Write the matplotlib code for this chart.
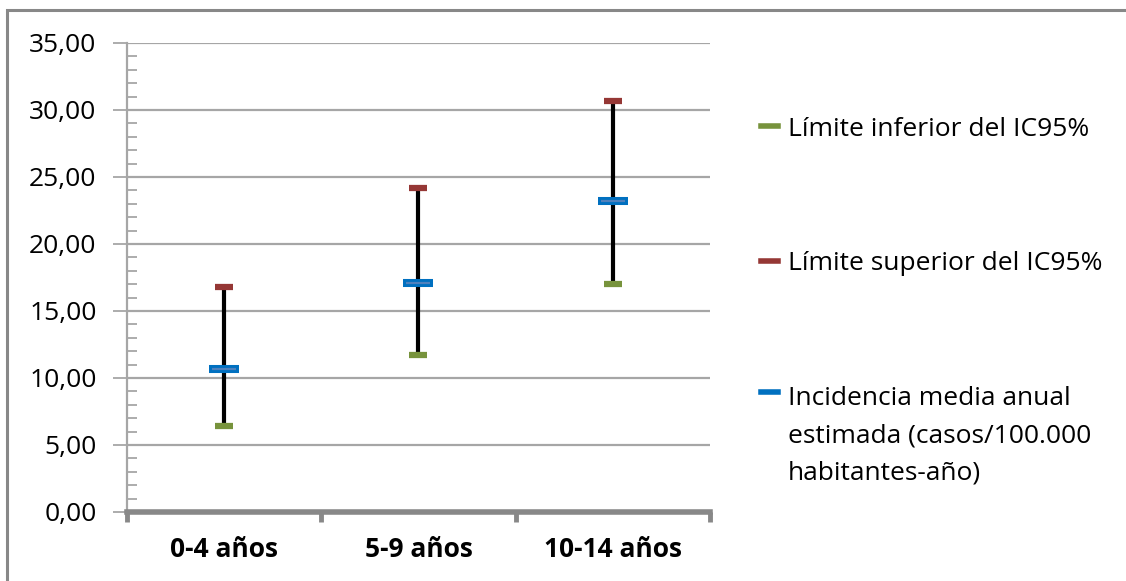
"""
Incidencia media anual estimada por grupo de edad con su IC95%.
Grafico de maximos y minimos al estilo Excel.
"""

import matplotlib.pyplot as plt
from matplotlib.legend_handler import HandlerLine2D
from matplotlib.lines import Line2D
from matplotlib.patches import Rectangle
from matplotlib.ticker import FuncFormatter, MultipleLocator

plt.rcParams["font.family"] = ["Open Sans", "DejaVu Sans"]

# Datos
grupos = ["0-4 años", "5-9 años", "10-14 años"]
limite_inferior = [6.4, 11.7, 17.0]
limite_superior = [16.8, 24.2, 30.7]
incidencia_media = [10.7, 17.1, 23.2]

etiquetas_leyenda = [
    "Límite inferior del IC95%",
    "Límite superior del IC95%",
    "Incidencia media anual\nestimada (casos/100.000\nhabitantes-año)",
]

VERDE = "#77933C"
ROJO = "#953735"
AZUL = "#0070C0"
AZUL_CLARO = "#4F81BD"
GRIS = "#A6A6A6"

TAM = 19
INTERLINEA = 1.65


class HandlerArriba(HandlerLine2D):
    """Coloca la marca de la leyenda a la altura de la primera linea del texto."""

    def __init__(self, desplazamiento, **kw):
        super().__init__(**kw)
        self.desplazamiento = desplazamiento

    def create_artists(self, legend, orig_handle, xdescent, ydescent, width, height,
                       fontsize, trans):
        artistas = super().create_artists(legend, orig_handle, xdescent, ydescent,
                                          width, height, fontsize, trans)
        for a in artistas:
            a.set_ydata([y + self.desplazamiento for y in a.get_ydata()])
        return artistas


fig = plt.figure(figsize=(11.26, 5.81), dpi=100)
ax = fig.add_axes([0.1128, 0.1188, 0.5177, 0.8072])

x = list(range(1, len(grupos) + 1))

# Lineas de maximos y minimos
ax.vlines(x, limite_inferior, limite_superior, color="black", lw=3.0, zorder=3)

# Marcadores
ax.plot(x, limite_inferior, ls="none", marker="_", ms=13, mew=4.5, color=VERDE, zorder=4)
ax.plot(x, limite_superior, ls="none", marker="_", ms=13, mew=4.5, color=ROJO, zorder=4)
ax.plot(x, incidencia_media, ls="none", marker="_", ms=21, mew=5.8, color=AZUL, zorder=4)
ax.plot(x, incidencia_media, ls="none", marker="_", ms=17, mew=1.6, color=AZUL_CLARO, zorder=5)

# Ejes
ax.set_xlim(0.5, len(grupos) + 0.5)
ax.set_ylim(0, 35)
ax.yaxis.set_major_locator(MultipleLocator(5))
ax.yaxis.set_minor_locator(MultipleLocator(1))
ax.yaxis.set_major_formatter(FuncFormatter(lambda v, p: f"{v:.2f}".replace(".", ",")))

ax.set_xticks(x)
ax.set_xticklabels(grupos, fontsize=TAM, fontweight="bold")
ax.set_xticks([i + 0.5 for i in range(len(grupos) + 1)], minor=True)
ax.tick_params(axis="x", which="major", length=0, pad=17)
ax.tick_params(axis="x", which="minor", length=7, width=3.5, color="#888888", direction="out")
ax.tick_params(axis="y", which="major", length=10, width=1.3, color=GRIS, labelsize=TAM, pad=12)
ax.tick_params(axis="y", which="minor", length=7, width=1.3, color=GRIS, direction="in")

ax.grid(axis="y", color=GRIS, lw=1.6)
ax.set_axisbelow(True)
for lado in ["top", "right"]:
    ax.spines[lado].set_visible(False)
ax.spines["left"].set_color(GRIS)
ax.spines["left"].set_linewidth(1.6)
ax.spines["bottom"].set_color("#888888")
ax.spines["bottom"].set_linewidth(4)

# Leyenda
manejadores = [
    Line2D([], [], color=VERDE, lw=4),
    Line2D([], [], color=ROJO, lw=4),
    Line2D([], [], color=AZUL, lw=4),
]
leyenda = fig.legend(
    manejadores,
    etiquetas_leyenda,
    loc="upper left",
    bbox_to_anchor=(0.655, 0.84),
    frameon=False,
    fontsize=TAM,
    handlelength=0.62,
    handletextpad=0.38,
    labelspacing=4.15,
    handler_map={manejadores[2]: HandlerArriba(INTERLINEA * TAM)},
)
for t in leyenda.get_texts():
    t.set_linespacing(INTERLINEA)

# Marco del grafico
fig.add_artist(
    Rectangle((7 / 1126, -0.1), 1.2, 1 - 10 / 581 + 0.1, transform=fig.transFigure,
              fill=False, edgecolor="#888888", lw=2.2)
)

fig.savefig("out.png", dpi=100)
